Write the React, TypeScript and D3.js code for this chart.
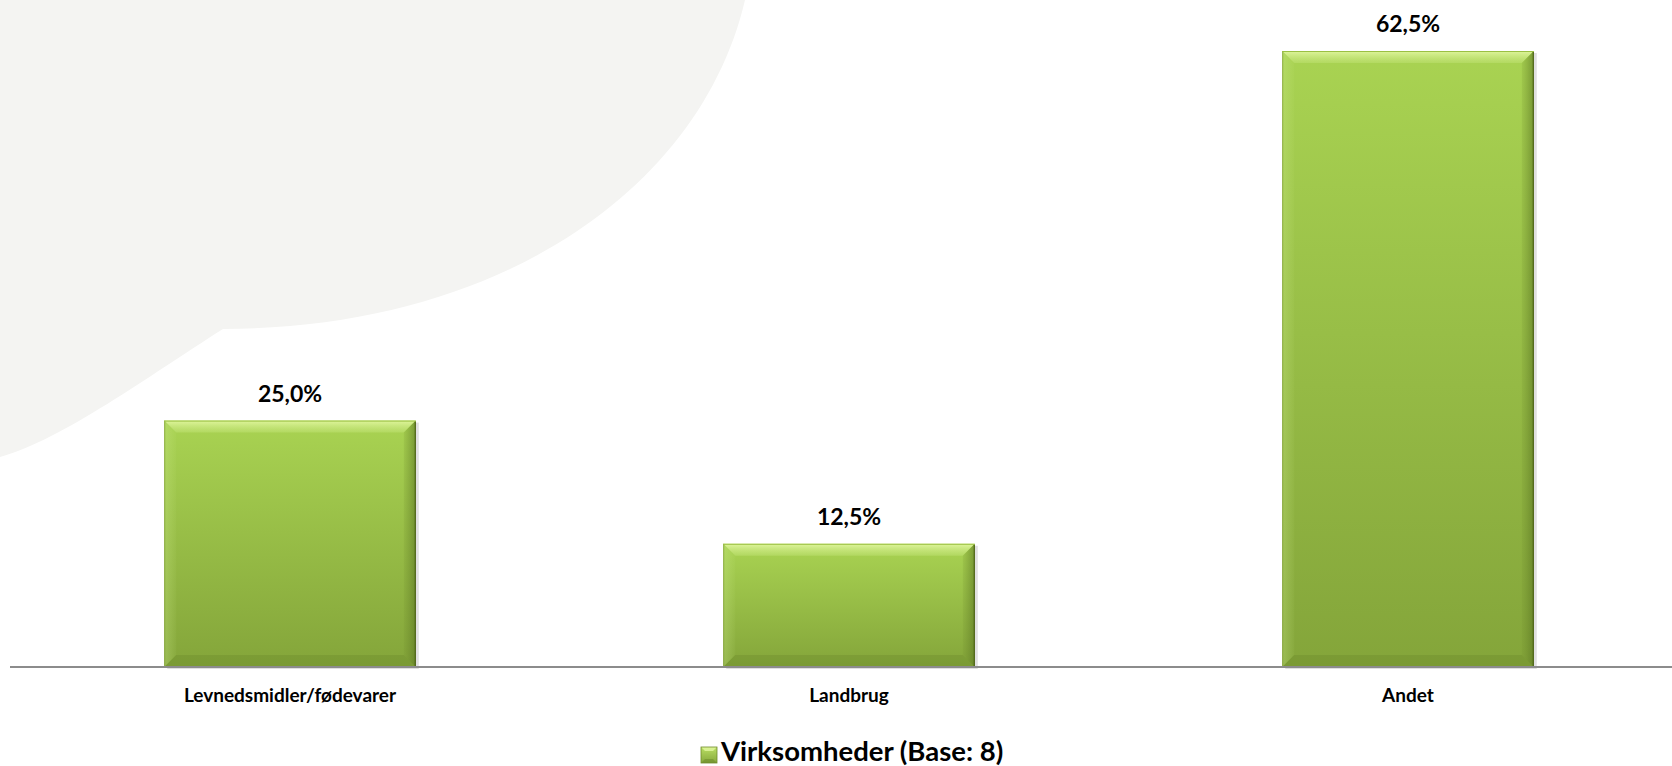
import React from "react";
import * as d3 from "d3";

const categories = ["Levnedsmidler/fødevarer", "Landbrug", "Andet"];
const values = [25.0, 12.5, 62.5];
const seriesName = "Virksomheder (Base: 8)";

const W = 1672;
const H = 766;
const FONT = "Lato, 'Open Sans', 'DejaVu Sans', sans-serif";

// decorative background blob (traced outline: top-right edge, flat bottom, tail to the left)
const blobD =
  "M0,0 L745,0 C702,185 505,328 223,329 C150,375 62,440 0,457 Z";

export default function App() {
  const x = d3
    .scaleBand<string>()
    .domain(categories)
    .range([10.5, 1687.5])
    .paddingInner(0.55)
    .paddingOuter(0.275);
  const y = d3.scaleLinear().domain([0, 62.5]).range([667, 51]);
  const fmt = (v: number) => v.toFixed(1).replace(".", ",") + "%";

  const b = 12;
  const bw = x.bandwidth();

  return (
    <div style={{ position: "absolute", left: 0, top: 0, width: W, height: H, overflow: "hidden", background: "#fff" }}>
      <svg width={W} height={H} style={{ display: "block" }}>
        <defs>
          <linearGradient id="body" x1="0" y1="0" x2="0" y2="1">
            <stop offset="0" stopColor="#a9d352" />
            <stop offset="1" stopColor="#84a53a" />
          </linearGradient>
          <linearGradient id="topBevel" x1="0" y1="0" x2="0" y2="1">
            <stop offset="0" stopColor="#e2f7a0" stopOpacity="0.95" />
            <stop offset="1" stopColor="#c4e57a" stopOpacity="0.4" />
          </linearGradient>
          <linearGradient id="rightBevel" x1="0" y1="0" x2="1" y2="0">
            <stop offset="0" stopColor="#6f8c2c" stopOpacity="0.15" />
            <stop offset="1" stopColor="#55701f" stopOpacity="0.6" />
          </linearGradient>
          <linearGradient id="leftBevel" x1="0" y1="0" x2="1" y2="0">
            <stop offset="0" stopColor="#c9e888" stopOpacity="0.35" />
            <stop offset="1" stopColor="#c9e888" stopOpacity="0.05" />
          </linearGradient>
          <linearGradient id="legendG" x1="0" y1="0" x2="0" y2="1">
            <stop offset="0" stopColor="#b9de63" />
            <stop offset="1" stopColor="#86a83b" />
          </linearGradient>
        </defs>

        <path d={blobD} fill="#f4f4f2" />

        {categories.map((c, i) => {
          const x0 = x(c)!;
          const x1 = x0 + bw;
          const y0 = y(values[i]);
          const y1 = y(0);
          return (
            <g key={c}>
              <rect x={x0 + 3} y={y0 + 2} width={bw} height={y1 - y0} fill="#000" opacity={0.12} />
              <rect x={x0} y={y0} width={bw} height={y1 - y0} fill="url(#body)" />
              <polygon
                points={`${x0},${y0} ${x1},${y0} ${x1 - b},${y0 + b} ${x0 + b},${y0 + b}`}
                fill="url(#topBevel)"
              />
              <polygon
                points={`${x0},${y0} ${x0 + b},${y0 + b} ${x0 + b},${y1 - b} ${x0},${y1}`}
                fill="url(#leftBevel)"
              />
              <polygon
                points={`${x1},${y0} ${x1 - b},${y0 + b} ${x1 - b},${y1 - b} ${x1},${y1}`}
                fill="url(#rightBevel)"
              />
              <polygon
                points={`${x0},${y1} ${x0 + b},${y1 - b} ${x1 - b},${y1 - b} ${x1},${y1}`}
                fill="#5f7a22"
                opacity={0.25}
              />
              <line x1={x1 - 0.5} x2={x1 - 0.5} y1={y0 + 1} y2={y1} stroke="#4f6519" strokeWidth={1.2} />
              <line x1={x0 + 0.5} x2={x0 + 0.5} y1={y0} y2={y1} stroke="#7d9c33" strokeWidth={1} opacity={0.7} />
              <line x1={x0} x2={x1} y1={y0 + 0.5} y2={y0 + 0.5} stroke="#9ac043" strokeWidth={1} />
              <text
                x={x0 + bw / 2}
                y={y0 - 19}
                textAnchor="middle"
                fontFamily={FONT}
                fontWeight="bold"
                fontSize={23}
                fill="#000"
              >
                {fmt(values[i])}
              </text>
              <text
                x={x0 + bw / 2}
                y={702}
                textAnchor="middle"
                fontFamily={FONT}
                fontWeight="bold"
                fontSize={19}
                fill="#000"
              >
                {c}
              </text>
            </g>
          );
        })}

        <line x1={10} x2={W} y1={y(0)} y2={y(0)} stroke="#8c8c8c" strokeWidth={2} />

        <g>
          <rect x={701} y={747} width={16} height={16} fill="url(#legendG)" />
          <polygon points="701,747 717,747 713,751 705,751" fill="#e2f7a0" opacity={0.8} />
          <polygon points="701,763 717,763 713,759 705,759" fill="#5f7a22" opacity={0.4} />
          <rect x={701} y={747} width={16} height={16} fill="none" stroke="#6f8c2c" strokeWidth={0.8} />
          <text x={721} y={761} fontFamily={FONT} fontWeight="bold" fontSize={27.5} fill="#000">
            {seriesName}
          </text>
        </g>
      </svg>
    </div>
  );
}
